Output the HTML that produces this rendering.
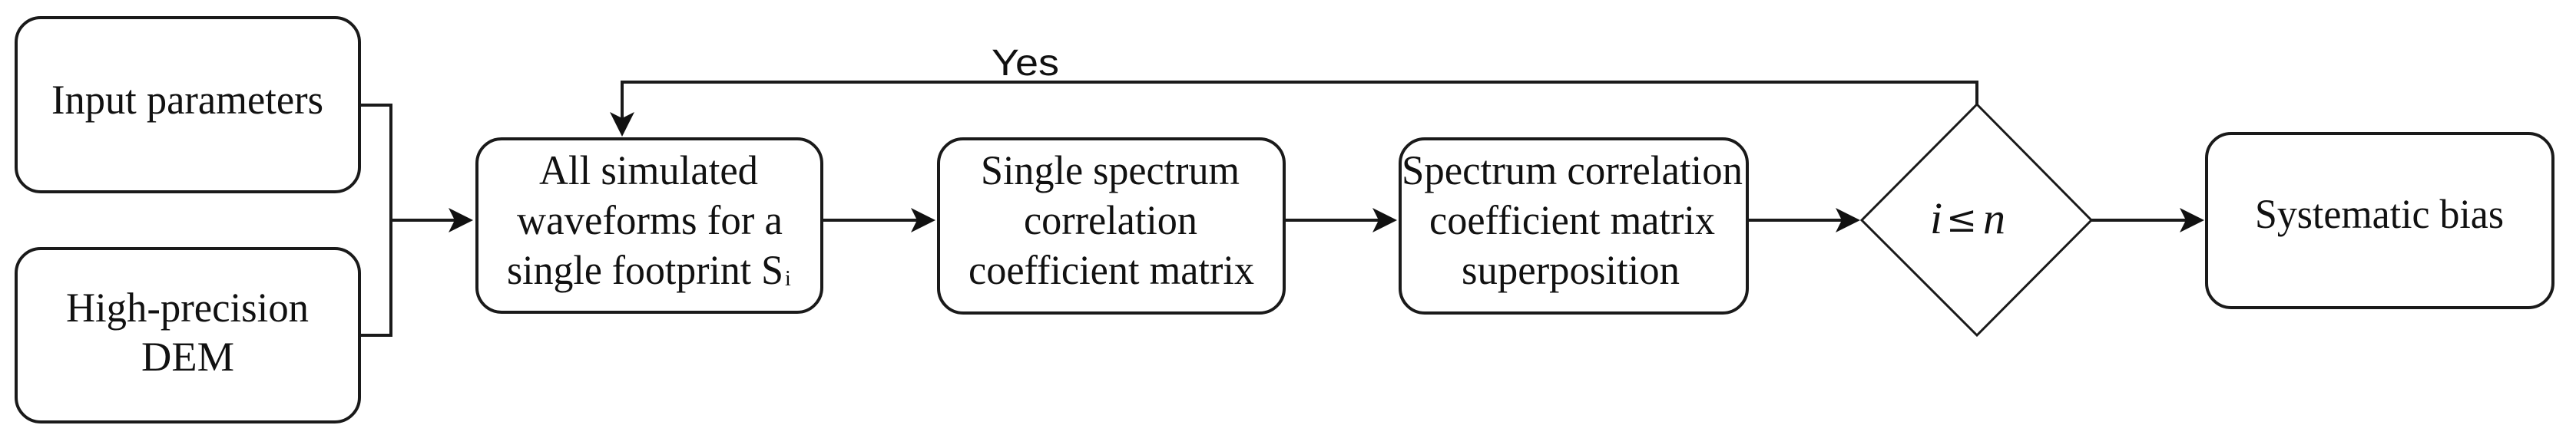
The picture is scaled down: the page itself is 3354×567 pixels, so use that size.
<!DOCTYPE html>
<html><head><style>html,body{margin:0;padding:0;background:#fff;}svg{display:block}</style></head>
<body>
<svg width="3354" height="567" viewBox="0 0 3354 567" xmlns="http://www.w3.org/2000/svg">
<defs><marker id="a" markerWidth="8" markerHeight="8" refX="7" refY="4" orient="auto" markerUnits="strokeWidth"><path d="M0,0 L8,4 L0,8 L2,4 Z" fill="#111"/></marker></defs>
<g fill="none" stroke="#1a1a1a" stroke-width="4">
<rect x="21" y="23" width="447" height="227" rx="32"/>
<rect x="21" y="324" width="447" height="226" rx="32"/>
<rect x="621" y="181" width="449" height="226" rx="32"/>
<rect x="1222" y="181" width="450" height="227" rx="32"/>
<rect x="1823" y="181" width="452" height="227" rx="32"/>
<rect x="2873" y="174" width="451" height="227" rx="32"/>
<path d="M2574,136 L2723,287 L2574,437 L2424,287 Z" stroke-width="3"/>
<path d="M468,137 H509 V437 H468"/>
<path d="M509,287 H612" marker-end="url(#a)"/>
<path d="M1070,287 H1214" marker-end="url(#a)"/>
<path d="M1672,287 H1815" marker-end="url(#a)"/>
<path d="M2275,287 H2418" marker-end="url(#a)"/>
<path d="M2723,287 H2866" marker-end="url(#a)"/>
<path d="M2574,136 V107 H810 V174" marker-end="url(#a)"/>
</g>
<g font-family="Liberation Serif, serif" font-size="54" fill="#111">
<text x="67" y="148" textLength="354" lengthAdjust="spacingAndGlyphs">Input parameters</text>
<text x="86" y="419" textLength="316" lengthAdjust="spacingAndGlyphs">High-precision</text>
<text x="184" y="483" textLength="121" lengthAdjust="spacingAndGlyphs">DEM</text>
<text x="702" y="240" textLength="285" lengthAdjust="spacingAndGlyphs">All simulated</text>
<text x="673" y="305" textLength="346" lengthAdjust="spacingAndGlyphs">waveforms for a</text>
<text x="660" y="370" textLength="360" lengthAdjust="spacingAndGlyphs">single footprint S</text>
<text x="1022" y="372" font-size="28">i</text>
<text x="1277" y="240" textLength="337" lengthAdjust="spacingAndGlyphs">Single spectrum</text>
<text x="1333" y="305" textLength="226" lengthAdjust="spacingAndGlyphs">correlation</text>
<text x="1261" y="370" textLength="372" lengthAdjust="spacingAndGlyphs">coefficient matrix</text>
<text x="1825" y="240" textLength="444" lengthAdjust="spacingAndGlyphs">Spectrum correlation</text>
<text x="1861" y="305" textLength="372" lengthAdjust="spacingAndGlyphs">coefficient matrix</text>
<text x="1903" y="370" textLength="284" lengthAdjust="spacingAndGlyphs">superposition</text>
<text x="2936" y="297" textLength="324" lengthAdjust="spacingAndGlyphs">Systematic bias</text>
<text x="2513" y="304" font-style="italic" font-size="58">i</text>
<text x="2534" y="302" font-size="48" font-family="DejaVu Serif, serif">≤</text>
<text x="2582" y="304" font-style="italic" font-size="58">n</text>
</g>
<text x="1291" y="98" font-family="Liberation Sans, sans-serif" font-size="48" fill="#111" textLength="88" lengthAdjust="spacingAndGlyphs">Yes</text>
</svg>
</body></html>
